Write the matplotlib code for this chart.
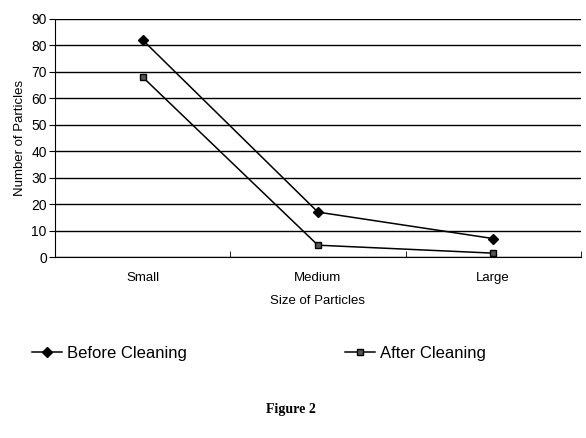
import matplotlib.pyplot as plt

# Datos
categorias = ['Small', 'Medium', 'Large']
antes_limpieza = [82, 17, 7]
despues_limpieza = [68, 4.5, 1.5]

plt.rcParams['font.family'] = ['Liberation Sans', 'DejaVu Sans']

fig = plt.figure(figsize=(5.86, 4.38), dpi=100)
ax = fig.add_axes([0.094, 0.413, 0.897, 0.544])

x = list(range(len(categorias)))
ax.plot(x, antes_limpieza, color='black', lw=1.1, marker='D', ms=5,
        label='Before Cleaning')
ax.plot(x, despues_limpieza, color='black', lw=1.1, marker='s', ms=5,
        markerfacecolor='#555555', label='After Cleaning')

ax.set_xlim(-0.5, len(categorias) - 0.5)
ax.set_ylim(0, 90)
ax.set_yticks(range(0, 91, 10))
ax.set_xticks(x)
ax.set_xticklabels(categorias, fontsize=9.5)
ax.set_xticks([0.5, 1.5, 2.5], minor=True)
ax.tick_params(axis='x', which='major', length=0, pad=11)
ax.tick_params(axis='x', which='minor', length=4, direction='in')
ax.tick_params(axis='y', labelsize=10, length=4, pad=2)
ax.yaxis.grid(True, color='black', lw=1)
ax.set_axisbelow(True)
ax.spines['top'].set_visible(False)
ax.spines['right'].set_visible(False)
ax.set_xlabel('Size of Particles', fontsize=9.5, labelpad=8)
ax.set_ylabel('Number of Particles', fontsize=9.5, labelpad=4)

fig.legend(loc='center', bbox_to_anchor=(0.442, 0.193), ncol=2, frameon=False,
           fontsize=12, columnspacing=9.5, handlelength=1.8, handletextpad=0.3)

fig.text(0.497, 0.066, 'Figure 2', ha='center', va='center', fontsize=10,
         fontweight='bold', family='Liberation Serif')

fig.savefig('out.png', dpi=100)
